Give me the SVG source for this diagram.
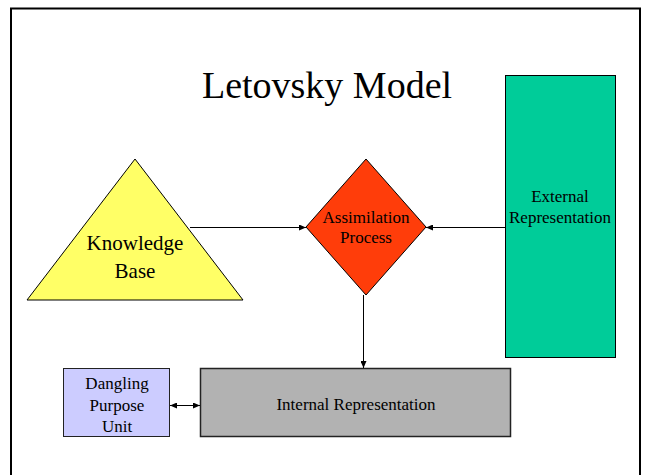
<svg xmlns="http://www.w3.org/2000/svg" width="645" height="475" viewBox="0 0 645 475">
<style>
text{font-family:"Liberation Serif","Times New Roman",serif;fill:#000;text-anchor:middle}
.lbl{font-size:17px}
.conn{stroke:#000;stroke-width:1;fill:none}
</style>
<defs>
<marker id="ah" markerWidth="8" markerHeight="6" refX="7" refY="3" orient="auto-start-reverse" markerUnits="userSpaceOnUse">
<path d="M0,0 L7,3 L0,6 Z" fill="#000"/>
</marker>
</defs>
<rect x="0" y="0" width="645" height="475" fill="#fff"/>
<path d="M11,480 V8.5 H640 V480" fill="none" stroke="#000" stroke-width="2"/>
<text x="327" y="98" style="font-size:38px">Letovsky Model</text>
<g id="external-representation">
<rect x="505.5" y="75.5" width="110" height="282" fill="#00CC99" stroke="#000"/>
<text class="lbl" x="560" y="202">External</text>
<text class="lbl" x="560" y="223">Representation</text>
</g>
<g id="knowledge-base">
<polygon points="135,159 243,300 27,300" fill="#FFFF66" stroke="#000"/>
<text x="135" y="250" style="font-size:21px">Knowledge</text>
<text x="135" y="278" style="font-size:21px">Base</text>
</g>
<g id="assimilation-process">
<polygon points="366,159 426,227 366,295 306,227" fill="#FF3D0A" stroke="#000"/>
<text class="lbl" x="366" y="223">Assimilation</text>
<text class="lbl" x="366" y="243">Process</text>
</g>
<g id="internal-representation">
<rect x="200.5" y="368.5" width="310" height="68" fill="#B2B2B2" stroke="#222" stroke-width="1.5"/>
<text class="lbl" x="356" y="410">Internal Representation</text>
</g>
<g id="dangling-purpose-unit">
<rect x="63.5" y="368.5" width="106" height="68" fill="#CCCCFF" stroke="#222" stroke-width="1"/>
<text class="lbl" x="117" y="389">Dangling</text>
<text class="lbl" x="117" y="411">Purpose</text>
<text class="lbl" x="117" y="432">Unit</text>
</g>
<g id="connectors">
<line class="conn" x1="190" y1="227.5" x2="306" y2="227.5" marker-end="url(#ah)"/>
<line class="conn" x1="505" y1="227.5" x2="426" y2="227.5" marker-end="url(#ah)"/>
<line class="conn" x1="363.5" y1="295" x2="363.5" y2="368" marker-end="url(#ah)"/>
<line class="conn" x1="170" y1="405.5" x2="200" y2="405.5" marker-start="url(#ah)" marker-end="url(#ah)"/>
</g>
</svg>
